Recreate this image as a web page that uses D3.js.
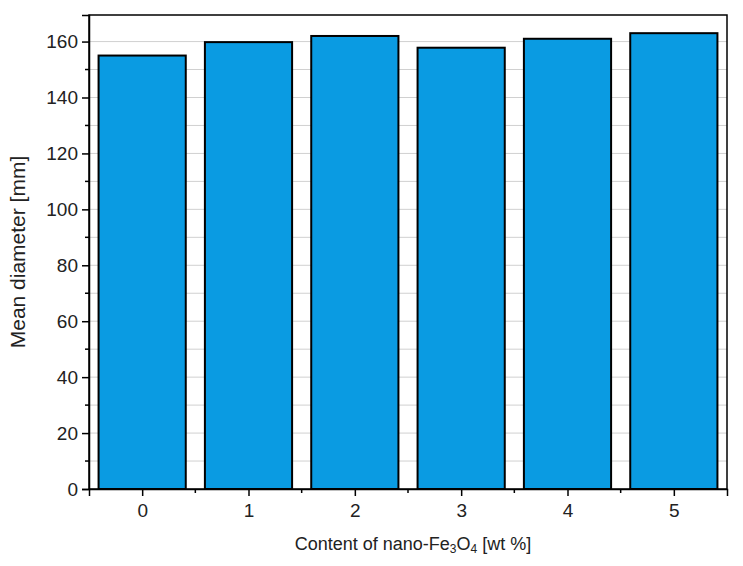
<!DOCTYPE html><html><head><meta charset="utf-8"><script src="https://cdn.jsdelivr.net/npm/d3@7"></script>
<style>body{margin:0;background:#fff}text{font-family:"Liberation Sans",Arial,sans-serif}</style></head><body><svg width="743" height="566"></svg><script>
const categories=["0","1","2","3","4","5"];
const values=[155,159.8,162,157.8,161,163];
const yTicks=[0,20,40,60,80,100,120,140,160];
const svg=d3.select("svg");
const L=89,R=727,T=15,B=489;
const x=d3.scaleLinear().domain([-0.5,5.5]).range([L,R]);
const y=d3.scaleLinear().domain([0,169.5]).range([B,T]);
const g=svg.append("g");
d3.range(10,170,10).forEach(v=>g.append("line").attr("x1",L).attr("x2",R).attr("y1",y(v)).attr("y2",y(v)).attr("stroke","#d0d0d0").attr("stroke-width",1));
const bw=(x(1)-x(0))*0.82;
g.selectAll("rect.bar").data(values).join("rect").attr("x",(d,i)=>x(i)-bw/2).attr("width",bw).attr("y",d=>y(d)).attr("height",d=>B-y(d)).attr("fill","#0a9be2").attr("stroke","#000").attr("stroke-width",2);
g.append("rect").attr("x",L).attr("y",T).attr("width",R-L).attr("height",B-T).attr("fill","none").attr("stroke","#000").attr("stroke-width",1.5);
const ya=d3.axisLeft(y).tickValues(yTicks).tickSize(7).tickPadding(4);
const yg=svg.append("g").attr("transform",`translate(${L},0)`).call(ya);
d3.range(10,170,20).forEach(v=>yg.append("line").attr("x1",0).attr("x2",-4).attr("y1",y(v)).attr("y2",y(v)).attr("stroke","#000").attr("stroke-width",1.5));
const xa=d3.axisBottom(x).tickValues(d3.range(6)).tickFormat(i=>categories[i]).tickSize(7).tickPadding(8);
const xg=svg.append("g").attr("transform",`translate(0,${B})`).call(xa);
d3.range(0.5,5,1).forEach(v=>xg.append("line").attr("x1",x(v)).attr("x2",x(v)).attr("y1",0).attr("y2",4).attr("stroke","#000").attr("stroke-width",1.5));
[yg,xg].forEach(a=>{a.attr("font-size",19);a.select(".domain").attr("stroke-width",1.5);a.selectAll(".tick line").attr("stroke-width",1.5);a.selectAll("text").style("font-size","19px").attr("fill","#222");});
const xl=svg.append("text").attr("x",(L+R)/2+5).attr("y",550).attr("text-anchor","middle").style("font-size","18px").attr("fill","#222");
xl.append("tspan").text("Content of nano-Fe");xl.append("tspan").text("3").style("font-size","12px").attr("dy",3);
xl.append("tspan").text("O").attr("dy",-3);xl.append("tspan").text("4").style("font-size","12px").attr("dy",3);
xl.append("tspan").text(" [wt %]").attr("dy",-3);
svg.append("text").attr("transform",`translate(25,${(T+B)/2}) rotate(-90)`).attr("text-anchor","middle").style("font-size","21px").attr("fill","#222").text("Mean diameter [mm]");
</script></body></html>
